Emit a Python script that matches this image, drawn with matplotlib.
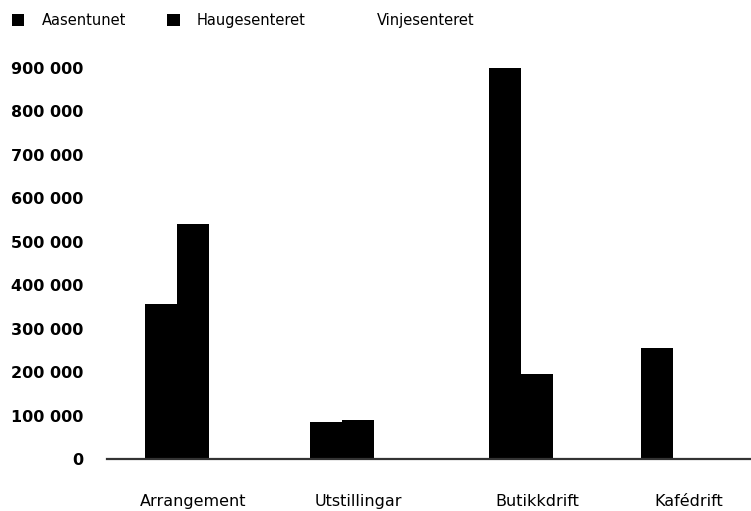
import matplotlib
matplotlib.use("Agg")
import matplotlib.pyplot as plt
from matplotlib.patches import Patch

# Data
categories = ["Arrangement", "Utstillingar", "Butikkdrift", "Kafédrift"]
series_names = ["Aasentunet", "Haugesenteret", "Vinjesenteret"]
aasentunet = [357000, 85000, 899000, 256000]
haugesenteret = [541000, 90000, 196000, 0]
vinjesenteret = [0, 0, 0, 0]
y_ticks = [0, 100000, 200000, 300000, 400000, 500000, 600000, 700000, 800000, 900000]

# Layout (pixel-like x units)
W, H = 751, 511
group_centers = [193, 358, 537, 689]
bar_w = 32
colors = ["#000000", "#000000", "#ffffff"]

fig = plt.figure(figsize=(W / 100, H / 100), dpi=100)
ax_left, ax_bottom, ax_top = 107, 459, 40
ax = fig.add_axes([ax_left / W, (H - ax_bottom) / H, (W - ax_left) / W, (ax_bottom - ax_top) / H])

px_per_unit = 43.45 / 100000
ax.set_xlim(ax_left, W)
ax.set_ylim(0, (ax_bottom - ax_top) / px_per_unit)

values = [aasentunet, haugesenteret, vinjesenteret]
for i, (vals, col) in enumerate(zip(values, colors)):
    xs = [c + (i - 1) * bar_w for c in group_centers]
    ax.bar(xs, vals, width=bar_w, color=col, zorder=2)

for s in ["top", "right", "left"]:
    ax.spines[s].set_visible(False)
ax.spines["bottom"].set_color("#333333")
ax.spines["bottom"].set_linewidth(1.6)
ax.spines["bottom"].set_zorder(3)

ax.set_yticks(y_ticks)
ax.set_yticklabels([f"{v:,}".replace(",", " ") for v in y_ticks],
                   fontsize=11.5, fontweight="bold", color="black")
ax.tick_params(axis="y", length=0, pad=17)
ax.set_xticks(group_centers)
ax.set_xticklabels(categories, fontsize=11.5, color="black")
ax.tick_params(axis="x", length=0, pad=25)

handles = [Patch(facecolor=c, edgecolor="none") for c in colors]
fig.legend(handles, series_names, loc="upper left", bbox_to_anchor=(12 / W, 1 - 13 / H),
           ncol=3, frameon=False, fontsize=10.5, handlelength=0.85, handleheight=0.85,
           handletextpad=1.2, columnspacing=2.8, borderaxespad=0, borderpad=0)

fig.savefig("out.png", dpi=100)
